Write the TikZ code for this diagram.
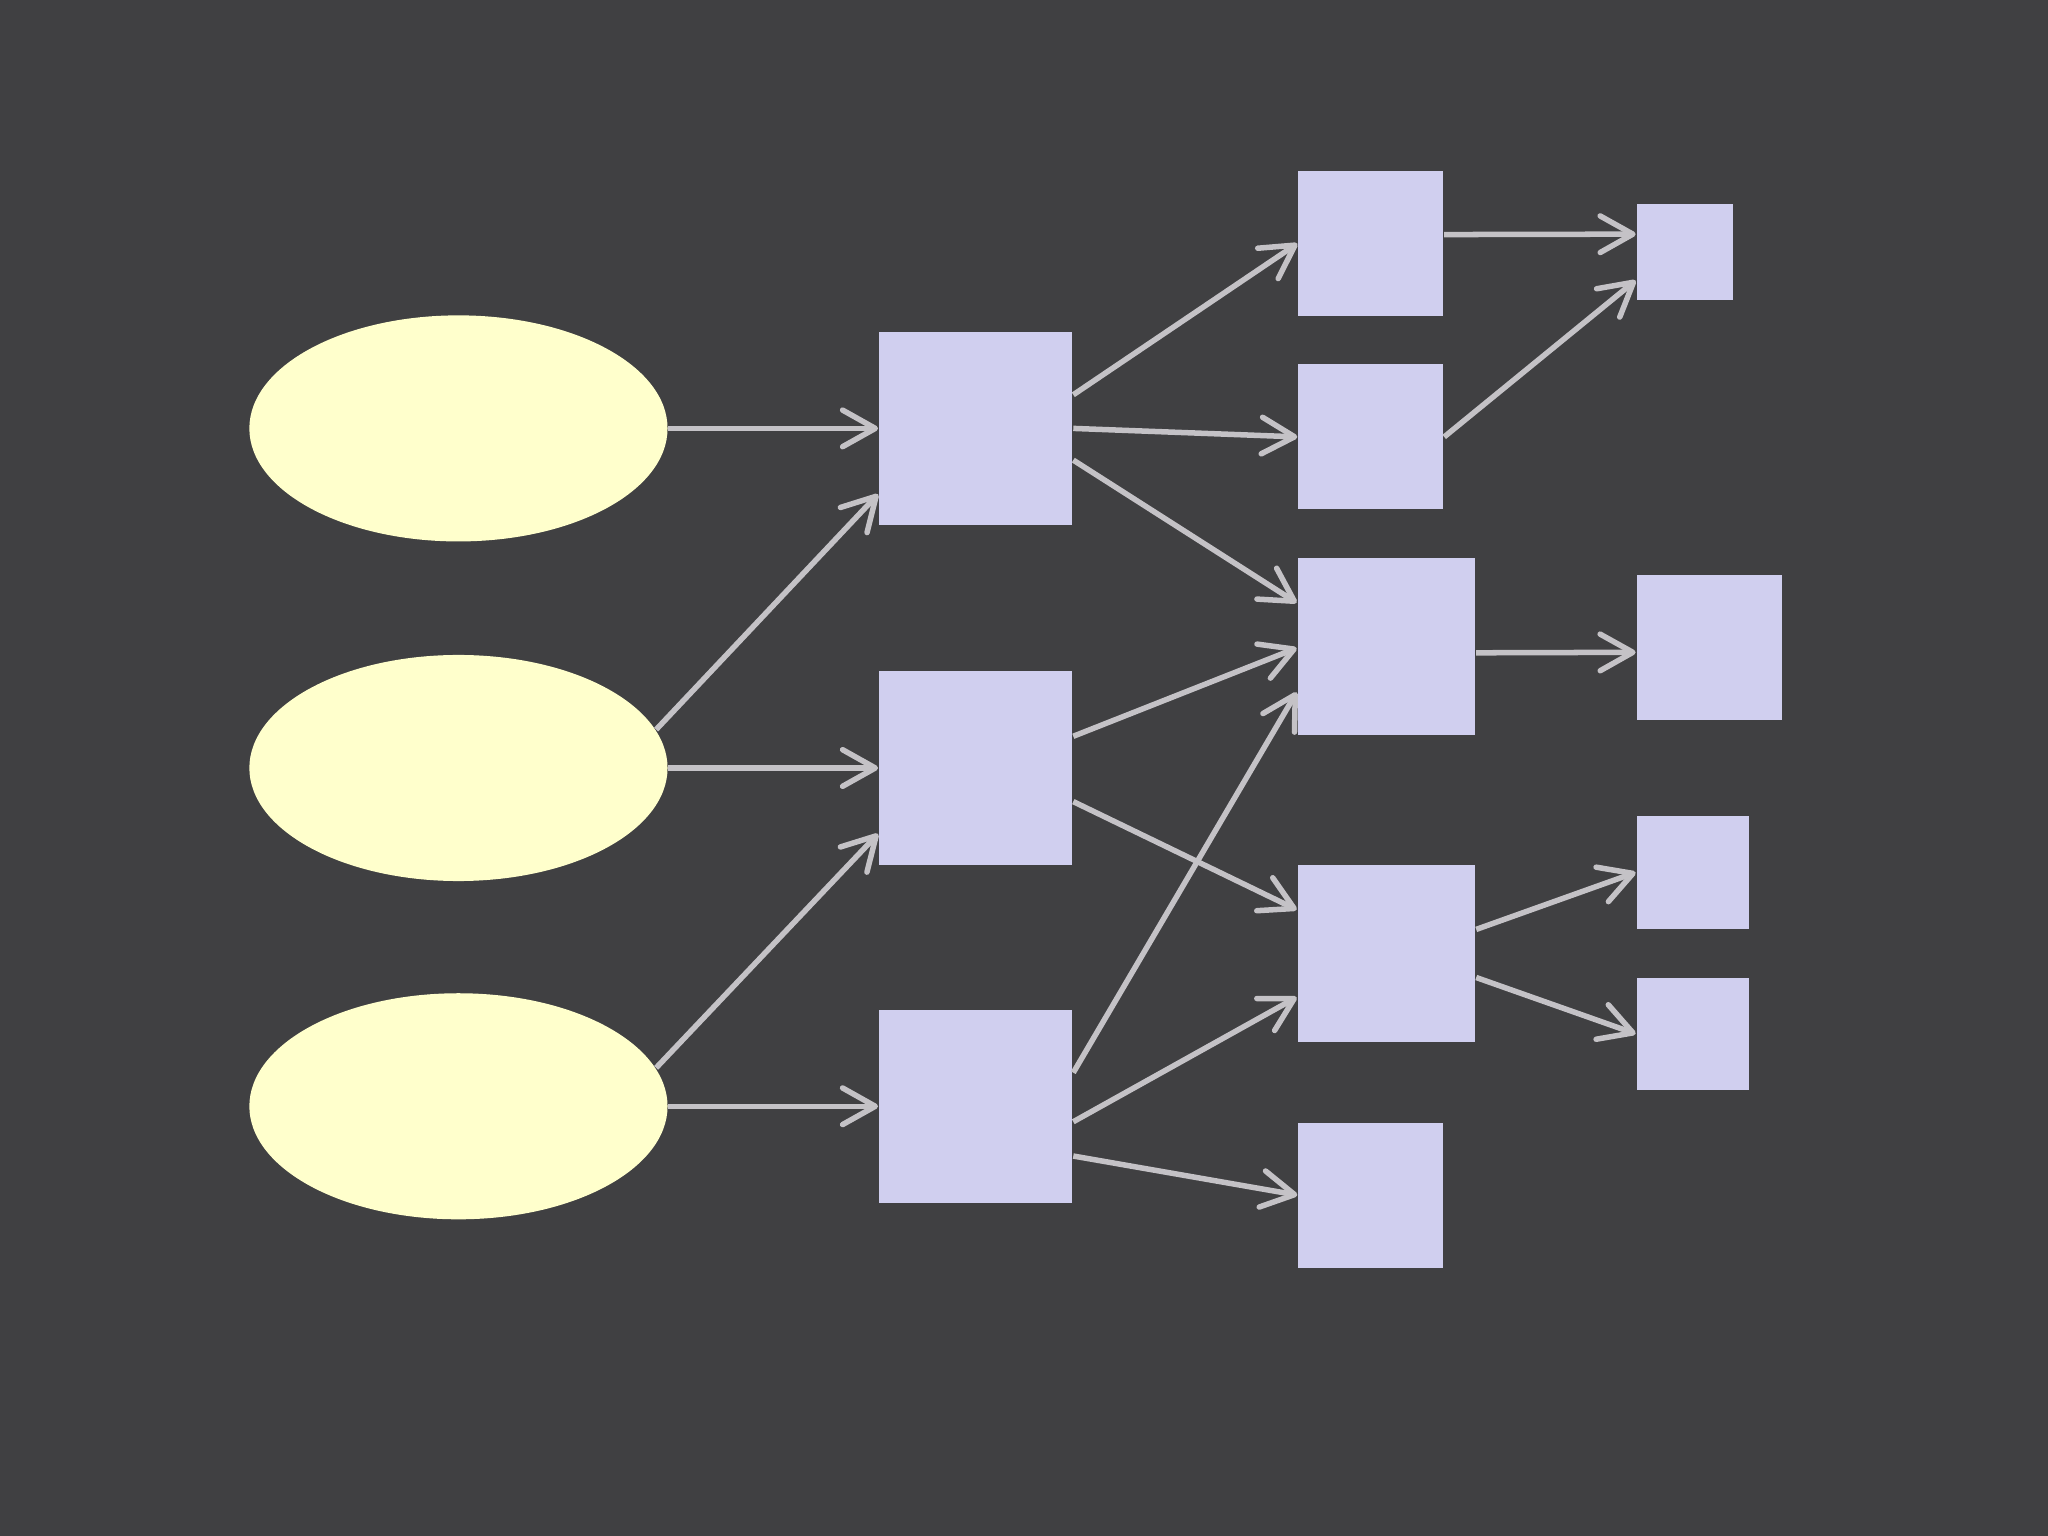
\documentclass[tikz,border=0pt]{standalone}
\usepackage{tikz}
\usetikzlibrary{shapes,shapes.geometric,arrows.meta,calc}
\definecolor{bgcol}{HTML}{404042}
\definecolor{ellcol}{HTML}{FFFFCC}
\definecolor{sqcol}{HTML}{D0CFEF}
\definecolor{edgecol}{HTML}{C4C2C6}
\tikzset{
  treenode/.style = {inner sep=0pt, draw=none},
  ell_n/.style = {treenode, ellipse, fill=ellcol, minimum width=3.2cm, minimum height=1.73cm},
  sq_n/.style = {treenode, rectangle, fill=sqcol, minimum size=#1},
  sq_n/.default=1.48cm,
  link/.style = {draw=edgecol, line width=1.2pt, -{Straight Barb[round, length=2.5mm, width=2.8mm]}}
}
\begin{document}
\begin{tikzpicture}[x=0.01cm, y=-0.01cm]
	\useasboundingbox[fill=bgcol] (0,0) rectangle (1568,1176);
	% inputs
	\node [ell_n] (e1) at (351,328) {};
	\node [ell_n] (e2) at (351,588) {};
	\node [ell_n] (e3) at (351,847) {};
	% second column
	\node [sq_n] (s1) at (747,328) {};
	\node [sq_n] (s2) at (747,588) {};
	\node [sq_n] (s3) at (747,847) {};
	% third column
	\node [sq_n=1.11cm] (a) at (1049.5,186.5) {};
	\node [sq_n=1.11cm] (b) at (1049.5,334.5) {};
	\node [sq_n=1.36cm] (c) at (1061.5,495) {};
	\node [sq_n=1.36cm] (d) at (1061.5,730) {};
	\node [sq_n=1.11cm] (e) at (1049.5,915) {};
	% last column
	\node [sq_n=0.74cm] (f) at (1290,193) {};
	\node [sq_n=1.11cm] (g) at (1308.5,495.5) {};
	\node [sq_n=0.86cm] (h) at (1296,668) {};
	\node [sq_n=0.86cm] (i) at (1296,791.5) {};
	% links
	\draw [link] (e1.east) -- (s1.west);
	\draw [link] (e2.11) -- (s1.214);
	\draw [link] (e2.east) -- (s2.west);
	\draw [link] (e3.11) -- (s2.214);
	\draw [link] (e3.east) -- (s3.west);
	\draw [link] (s1.19) -- (a.west);
	\draw [link] (s1.east) -- (b.west);
	\draw [link] (s1.-18) -- (c.154);
	\draw [link] (s2.18) -- (c.181);
	\draw [link] (s2.-19) -- (d.154);
	\draw [link] (s3.19) -- (c.207);
	\draw [link] (s3.-9) -- (d.206);
	\draw [link] (s3.-27) -- (e.west);
	\draw [link] (a.7) -- (f.160);
	\draw [link] (b.east) -- (f.210);
	\draw [link] (c.-4) -- (g.184);
	\draw [link] (d.15) -- (h.west);
	\draw [link] (d.-15) -- (i.west);
\end{tikzpicture}
\end{document}
